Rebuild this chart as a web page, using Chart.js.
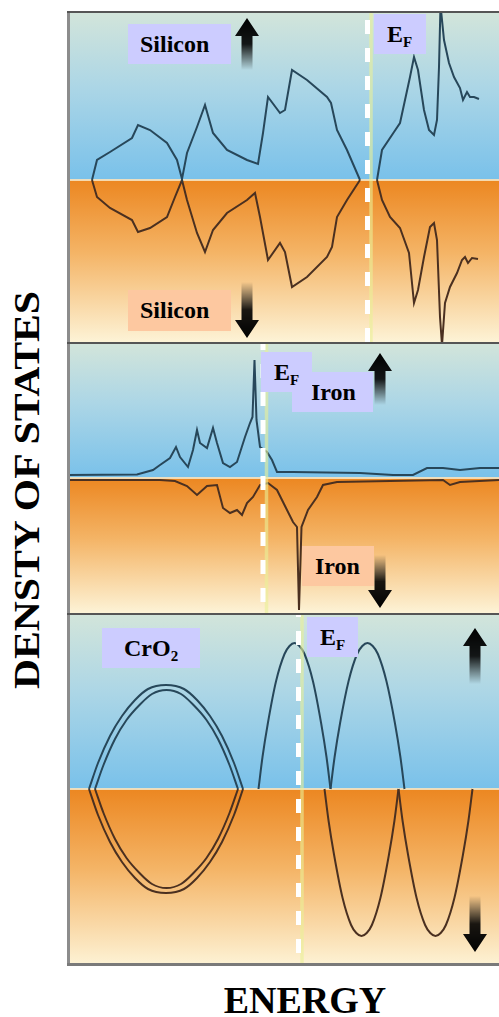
<!DOCTYPE html>
<html>
<head>
<meta charset="utf-8">
<script src="https://cdn.jsdelivr.net/npm/chart.js@4.4.0/dist/chart.umd.min.js"></script>
<style>
  body {
    margin: 0;
    width: 499px;
    height: 1017px;
    position: relative;
    overflow: hidden;
    background: #fff;
    font-family: "Liberation Serif", "Times New Roman", serif;
    font-weight: bold;
    color: #000;
  }
  canvas { position: absolute; left: 67px; }
  .tag {
    position: absolute;
    height: 40px;
    line-height: 40px;
    font-size: 24px;
    box-sizing: border-box;
    white-space: nowrap;
  }
  .tag sub { font-size: 15px; vertical-align: -5px; line-height: 0; }
  .up { background: #ccccff; }
  .down { background: #fdc8a0; }
  #dos-title {
    position: absolute;
    left: 28px;
    top: 490px;
    width: 460px;
    height: 40px;
    line-height: 40px;
    font-size: 35px;
    text-align: center;
    white-space: nowrap;
    transform: translate(-50%, -50%) rotate(-90deg) scaleX(1.19);
  }
  #energy-title {
    position: absolute;
    left: 205px;
    top: 981px;
    width: 200px;
    line-height: 38px;
    font-size: 38px;
    text-align: center;
  }
</style>
</head>
<body>
<canvas id="silicon" width="432" height="331" style="top:11px"></canvas>
<canvas id="iron" width="432" height="271" style="top:342px"></canvas>
<canvas id="cro2" width="432" height="353" style="top:613px"></canvas>

<div class="tag up" style="left:128px;top:24px;width:103px;padding-left:12px">Silicon</div>
<div class="tag down" style="left:128px;top:290px;width:103px;height:41px;padding-left:12px">Silicon</div>
<div class="tag up" style="left:374px;top:14px;width:52px;padding-left:13px">E<sub>F</sub></div>
<div class="tag up" style="left:292px;top:372px;width:81px;padding-left:19px">Iron</div>
<div class="tag up" style="left:261px;top:352px;width:51px;padding-left:13px">E<sub>F</sub></div>
<div class="tag down" style="left:302px;top:546px;width:72px;padding-left:13px">Iron</div>
<div class="tag up" style="left:102px;top:628px;width:98px;padding-left:22px">CrO<sub>2</sub></div>
<div class="tag up" style="left:307px;top:617px;width:51px;padding-left:13px">E<sub>F</sub></div>

<div id="dos-title">DENSTY OF STATES</div>
<div id="energy-title">ENERGY</div>

<script>
// Silicon: spin-up / spin-down DOS, valence and conduction bands
const siUpValE = [2.5, 3.0, 4.3, 6.5, 7.1, 8.3, 10.0, 11.0, 11.5, 12.0, 13.0, 13.8, 14.6, 16.0, 18.0, 19.1, 19.6, 20.1, 21.3, 21.8, 22.5, 24.0, 26.0, 26.4, 27.0, 28.0, 29.3];
const siUpValD = [0, 2.0, 2.8, 4.2, 5.5, 5.0, 3.7, 2.0, 0.1, 2.7, 5.3, 7.5, 4.7, 3.0, 2.0, 1.6, 4.7, 8.3, 6.7, 7.0, 11.0, 10.0, 8.3, 7.7, 5.0, 3.0, 0];
const siDownValE = [2.5, 3.0, 4.3, 6.5, 7.1, 8.3, 10.0, 10.8, 11.5, 12.0, 13.0, 13.8, 14.6, 16.0, 18.0, 18.8, 19.3, 20.1, 21.3, 21.8, 22.5, 24.0, 26.0, 26.5, 27.0, 28.0, 29.3];
const siDownValD = [0, -1.7, -2.8, -4.0, -5.2, -4.8, -3.7, -1.7, 0, -2.0, -5.3, -7.2, -5.0, -3.3, -2.0, -1.3, -3.7, -8.0, -6.3, -7.2, -10.7, -9.7, -7.7, -6.7, -3.7, -2.0, 0];
const siUpCondE = [31.0, 31.5, 32.7, 33.3, 34.3, 34.7, 35.1, 35.7, 36.2, 36.7, 37.0, 37.2, 37.35, 37.7, 38.2, 38.7, 39.3, 39.6, 40.0, 40.3, 40.7, 41.2];
const siUpCondD = [0, 3.0, 4.8, 5.7, 10.3, 12.3, 11.0, 7.0, 5.0, 4.5, 6.0, 11.3, 17.5, 14.0, 11.7, 10.3, 9.2, 8.0, 8.8, 8.3, 8.3, 8.1];
const siDownCondE = [31.0, 31.5, 32.3, 33.3, 34.2, 34.7, 35.1, 35.7, 36.3, 36.7, 37.0, 37.3, 37.5, 37.8, 38.3, 39.0, 39.5, 39.8, 40.1, 40.5, 41.1];
const siDownCondD = [0, -2.0, -3.7, -4.8, -7.3, -12.3, -11.0, -7.7, -4.7, -4.3, -6.0, -13.7, -16.5, -12.3, -10.7, -9.3, -8.0, -7.7, -8.3, -7.8, -7.9];

// Iron
const feUpE = [0, 7.0, 8.6, 9.3, 10.3, 10.9, 11.3, 12.1, 12.6, 13.0, 13.3, 14.0, 14.6, 15.0, 15.6, 16.3, 17.0, 17.8, 18.3, 18.55, 18.75, 18.95, 19.3, 20.0, 20.5, 21.0, 22.6, 29.3, 32.6, 34.6, 36.0, 37.6, 39.3, 41.3, 43.2];
const feUpD = [0.3, 0.35, 0.8, 1.3, 2.0, 3.1, 2.1, 1.1, 2.8, 4.8, 3.5, 3.0, 5.0, 3.5, 1.5, 1.1, 1.6, 4.1, 5.5, 6.1, 11.8, 5.8, 3.1, 2.6, 1.8, 0.6, 0.6, 0.5, 0.3, 0.3, 1.0, 1.0, 0.8, 1.0, 1.0];
const feDownE = [0, 9.3, 10.8, 12.0, 13.0, 14.0, 15.0, 15.6, 16.3, 17.0, 17.5, 18.0, 18.6, 19.3, 20.1, 21.0, 22.0, 22.6, 23.0, 23.2, 23.45, 24.1, 25.0, 25.6, 27.0, 37.6, 38.3, 39.3, 43.2];
const feDownD = [-0.2, -0.2, -0.3, -0.8, -1.7, -0.8, -0.7, -3.0, -3.5, -3.2, -3.7, -2.5, -1.9, -0.7, -0.5, -1.2, -3.2, -4.4, -4.9, -13.2, -4.9, -3.2, -1.9, -0.7, -0.4, -0.2, -0.7, -0.4, -0.2];

// CrO2: two nested bands below E_F, two split bands per spin near E_F
const cro2OuterE = [2.2, 3.1, 4.3, 5.5, 6.8, 8.1, 9.9, 11.7, 13.0, 14.3, 15.5, 16.7, 17.6];
const cro2OuterUp = [0, 2.6, 5.3, 7.3, 8.9, 10.0, 10.4, 10.0, 8.9, 7.3, 5.3, 2.6, 0];
const cro2OuterDown = [0, -2.6, -5.3, -7.3, -8.9, -10.0, -10.4, -10.0, -8.9, -7.3, -5.3, -2.6, 0];
const cro2InnerE = [2.8, 3.65, 4.8, 5.95, 7.25, 8.5, 9.95, 11.4, 12.65, 13.95, 15.1, 16.25, 17.1];
const cro2InnerUp = [0, 2.4, 5.0, 6.9, 8.4, 9.5, 9.9, 9.5, 8.4, 6.9, 5.0, 2.4, 0];
const cro2InnerDown = [0, -2.4, -5.0, -6.9, -8.4, -9.5, -9.9, -9.5, -8.4, -6.9, -5.0, -2.4, 0];
const cro2UpBandA = [19.15, 19.55, 20.09, 20.91, 21.75, 22.25, 22.75, 23.25, 23.75, 24.59, 25.41, 25.95, 26.35];
const cro2UpBandB = [26.35, 26.76, 27.31, 28.16, 29.01, 29.53, 30.05, 30.57, 31.09, 31.94, 32.79, 33.34, 33.75];
const cro2DownBandA = [25.75, 26.16, 26.71, 27.56, 28.41, 28.93, 29.45, 29.97, 30.49, 31.34, 32.19, 32.74, 33.15];
const cro2DownBandB = [33.15, 33.56, 34.11, 34.96, 35.81, 36.33, 36.85, 37.37, 37.89, 38.74, 39.59, 40.14, 40.55];
const cro2BandUp = [0, 3.2, 6.6, 10.8, 13.5, 14.3, 14.6, 14.3, 13.5, 10.8, 6.6, 3.2, 0];
const cro2BandDown = [0, -3.2, -6.6, -10.9, -13.6, -14.4, -14.7, -14.4, -13.6, -10.9, -6.6, -3.2, 0];

const UP = "#27475a";
const DOWN = "#4b3020";

function curve(xs, ys, color, smooth) {
  return {
    data: xs.map((x, i) => ({ x: x, y: ys[i] })),
    borderColor: color,
    borderWidth: 2,
    pointRadius: 0,
    fill: false,
    tension: 0,
    cubicInterpolationMode: smooth ? "monotone" : "default",
  };
}

function drawArrow(ctx, x, yTip, yTail) {
  const dir = yTail > yTip ? 1 : -1;
  const head = 18;
  const g = ctx.createLinearGradient(0, yTip, 0, yTail);
  g.addColorStop(0, "rgba(0,0,0,1)");
  g.addColorStop(0.5, "rgba(0,0,0,0.9)");
  g.addColorStop(1, "rgba(0,0,0,0)");
  ctx.save();
  ctx.filter = "blur(0.7px)";
  ctx.fillStyle = g;
  ctx.beginPath();
  ctx.moveTo(x, yTip);
  ctx.lineTo(x + 12, yTip + dir * head);
  ctx.lineTo(x + 5.5, yTip + dir * head);
  ctx.lineTo(x + 5.5, yTail);
  ctx.lineTo(x - 5.5, yTail);
  ctx.lineTo(x - 5.5, yTip + dir * head);
  ctx.lineTo(x - 12, yTip + dir * head);
  ctx.closePath();
  ctx.fill();
  ctx.restore();
}

// background halves, frame, Fermi level and spin arrows
const panelPlugin = {
  id: "panel",
  beforeDraw(chart, args, opts) {
    const { ctx, chartArea: a, scales } = chart;
    const mid = scales.y.getPixelForValue(0);
    ctx.save();
    let g = ctx.createLinearGradient(0, a.top, 0, mid);
    g.addColorStop(0, "#d3e5da");
    g.addColorStop(0.45, "#acd6e6");
    g.addColorStop(1, "#79c1ea");
    ctx.fillStyle = g;
    ctx.fillRect(a.left, a.top, a.width, mid - a.top);
    g = ctx.createLinearGradient(0, mid, 0, a.bottom);
    g.addColorStop(0, "#ec8721");
    g.addColorStop(0.45, "#f4b466");
    g.addColorStop(1, "#fdf3d6");
    ctx.fillStyle = g;
    ctx.fillRect(a.left, mid, a.width, a.bottom - mid);
    ctx.fillStyle = "rgba(246,226,190,0.9)";
    ctx.fillRect(a.left, mid - 1, a.width, 2);
    ctx.restore();
  },
  afterDatasetsDraw(chart, args, opts) {
    const { ctx, chartArea: a, scales } = chart;
    const xf = scales.x.getPixelForValue(opts.fermi);
    ctx.save();
    ctx.strokeStyle = "rgba(234,240,150,0.6)";
    ctx.lineWidth = 3.5;
    ctx.beginPath();
    ctx.moveTo(xf + 3.5, a.top);
    ctx.lineTo(xf + 3.5, a.bottom);
    ctx.stroke();
    ctx.strokeStyle = "#fff";
    ctx.lineWidth = 5;
    ctx.setLineDash([14, 14]);
    ctx.lineDashOffset = opts.dashOffset || 0;
    ctx.beginPath();
    ctx.moveTo(xf, a.top);
    ctx.lineTo(xf, a.bottom);
    ctx.stroke();
    ctx.restore();

    opts.arrows.forEach((ar) => {
      drawArrow(
        ctx,
        scales.x.getPixelForValue(ar.e),
        scales.y.getPixelForValue(ar.tip),
        scales.y.getPixelForValue(ar.tail)
      );
    });

    ctx.save();
    ctx.fillStyle = "#8c8c8c";
    ctx.fillRect(a.left, a.top, 3, a.height);
    ctx.fillStyle = "#555";
    ctx.fillRect(a.left, a.top, a.width, 2);
    if (opts.bottomEdge) {
      ctx.fillStyle = "#7a7a7a";
      ctx.fillRect(a.left, a.bottom - 3, a.width, 3);
    }
    ctx.restore();
  },
};

function panelChart(id, datasets, yMin, yMax, panelOpts) {
  return new Chart(document.getElementById(id), {
    type: "line",
    data: { datasets: datasets },
    options: {
      responsive: false,
      animation: false,
      devicePixelRatio: 1,
      events: [],
      layout: { padding: 0 },
      plugins: {
        legend: { display: false },
        tooltip: { enabled: false },
        panel: panelOpts,
      },
      scales: {
        x: { type: "linear", min: 0, max: 43.2, display: false },
        y: { type: "linear", min: yMin, max: yMax, display: false },
      },
    },
    plugins: [panelPlugin],
  });
}

panelChart(
  "silicon",
  [
    curve(siUpValE, siUpValD, UP),
    curve(siUpCondE, siUpCondD, UP),
    curve(siDownValE, siDownValD, DOWN),
    curve(siDownCondE, siDownCondD, DOWN),
  ],
  -16.2,
  16.9,
  {
    fermi: 30.05,
    dashOffset: 19,
    arrows: [
      { e: 18.0, tip: 16.2, tail: 11.0 },
      { e: 18.0, tip: -15.8, tail: -10.2 },
    ],
  }
);

panelChart(
  "iron",
  [curve(feUpE, feUpD, UP), curve(feDownE, feDownD, DOWN)],
  -13.5,
  13.6,
  {
    fermi: 19.6,
    dashOffset: 6,
    arrows: [
      { e: 31.3, tip: 12.5, tail: 7.3 },
      { e: 31.3, tip: -13.0, tail: -7.7 },
    ],
  }
);

panelChart(
  "cro2",
  [
    curve(cro2OuterE, cro2OuterUp, UP, true),
    curve(cro2InnerE, cro2InnerUp, UP, true),
    curve(cro2UpBandA, cro2BandUp, UP, true),
    curve(cro2UpBandB, cro2BandUp, UP, true),
    curve(cro2OuterE, cro2OuterDown, DOWN, true),
    curve(cro2InnerE, cro2InnerDown, DOWN, true),
    curve(cro2DownBandA, cro2BandDown, DOWN, true),
    curve(cro2DownBandB, cro2BandDown, DOWN, true),
  ],
  -17.7,
  17.6,
  {
    fermi: 23.15,
    dashOffset: 10,
    bottomEdge: true,
    arrows: [
      { e: 40.8, tip: 16.1, tail: 10.5 },
      { e: 40.8, tip: -16.3, tail: -10.7 },
    ],
  }
);
</script>
</body>
</html>
